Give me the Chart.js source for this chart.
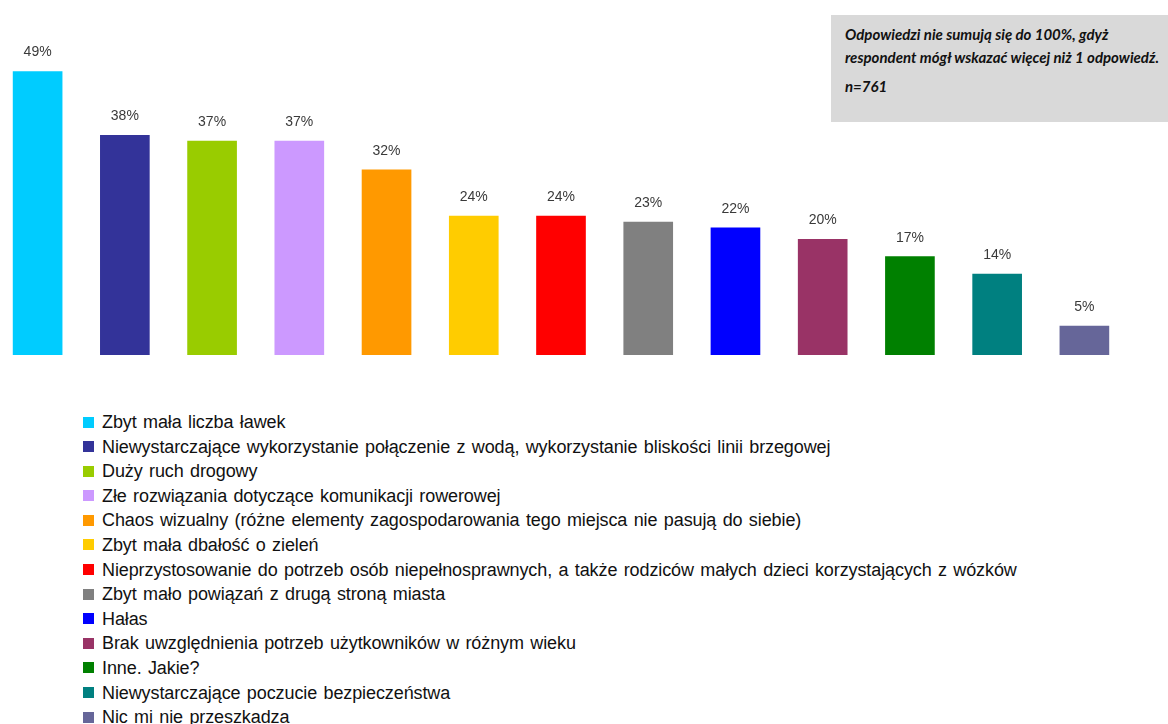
<!DOCTYPE html>
<html>
<head>
<meta charset="utf-8">
<script src="https://cdn.jsdelivr.net/npm/chart.js@4.4.1/dist/chart.umd.min.js"></script>
<style>
  html, body { margin:0; padding:0; background:#fff; width:1168px; height:724px; overflow:hidden; position:relative; }
  #wrap { position:absolute; left:-6px; top:0; width:1134px; height:355px; }
  #note { position:absolute; left:831px; top:15px; width:337px; height:107px; background:#d9d9d9; }
  #note div { position:absolute; left:14px; white-space:nowrap; font-family:Lato, "Open Sans", sans-serif; font-style:italic; font-weight:700; font-size:15px; line-height:18px; color:#111; }
  #legend { position:absolute; left:83px; top:410px; font-family:"Liberation Sans", Arial, sans-serif; font-size:18px; color:#111; }
  #legend .row { height:24.6px; line-height:24.6px; white-space:nowrap; position:relative; }
  #legend .sw { position:absolute; left:0; top:6.5px; width:11px; height:11px; }
  #legend .tx { position:absolute; left:19px; top:0; letter-spacing:-0.1px; word-spacing:1.5px; }
</style>
</head>
<body>
<div id="wrap"><canvas id="c"></canvas></div>
<div id="note">
  <div style="top:10px">Odpowiedzi nie sumują się do 100%, gdyż</div>
  <div style="top:33px">respondent mógł wskazać więcej niż 1 odpowiedź.</div>
  <div style="top:62px">n=761</div>
</div>
<div id="legend"></div>
<script>
const categories = [
  "Zbyt mała liczba ławek",
  "Niewystarczające wykorzystanie połączenie z wodą, wykorzystanie bliskości linii brzegowej",
  "Duży ruch drogowy",
  "Złe rozwiązania dotyczące komunikacji rowerowej",
  "Chaos wizualny (różne elementy zagospodarowania tego miejsca nie pasują do siebie)",
  "Zbyt mała dbałość o zieleń",
  "Nieprzystosowanie do potrzeb osób niepełnosprawnych, a także rodziców małych dzieci korzystających z wózków",
  "Zbyt mało powiązań z drugą stroną miasta",
  "Hałas",
  "Brak uwzględnienia potrzeb użytkowników w różnym wieku",
  "Inne. Jakie?",
  "Niewystarczające poczucie bezpieczeństwa",
  "Nic mi nie przeszkadza"
];
const values = [49, 38, 37, 37, 32, 24, 24, 23, 22, 20, 17, 14, 5];
const colors = ["#00CCFF","#333399","#99CC00","#CC99FF","#FF9900","#FFCC00","#FF0000","#808080","#0000FF","#993366","#008000","#008080","#666699"];

const labelPlugin = {
  id: 'valueLabels',
  afterDatasetsDraw(chart) {
    const ctx = chart.ctx;
    const meta = chart.getDatasetMeta(0);
    ctx.save();
    ctx.font = '14px "Liberation Sans", Arial, sans-serif';
    ctx.fillStyle = '#3a3a3a';
    ctx.textAlign = 'center';
    ctx.textBaseline = 'middle';
    meta.data.forEach((bar, i) => {
      ctx.fillText(values[i] + '%', bar.x, bar.y - 19);
    });
    ctx.restore();
  }
};

new Chart(document.getElementById('c'), {
  type: 'bar',
  data: {
    labels: categories,
    datasets: [{ data: values, backgroundColor: colors, barThickness: 49, borderWidth: 0 }]
  },
  options: {
    responsive: true,
    maintainAspectRatio: false,
    animation: false,
    layout: { padding: { top: 8, bottom: 0, left: 0, right: 0 } },
    plugins: { legend: { display: false }, tooltip: { enabled: false } },
    scales: {
      x: { display: false, offset: true },
      y: { display: false, min: 0, max: 60 }
    }
  },
  plugins: [labelPlugin]
});

const leg = document.getElementById('legend');
categories.forEach((name, i) => {
  const row = document.createElement('div');
  row.className = 'row';
  const sw = document.createElement('span');
  sw.className = 'sw';
  sw.style.background = colors[i];
  const tx = document.createElement('span');
  tx.className = 'tx';
  tx.textContent = name;
  row.appendChild(sw); row.appendChild(tx);
  leg.appendChild(row);
});
</script>
</body>
</html>
